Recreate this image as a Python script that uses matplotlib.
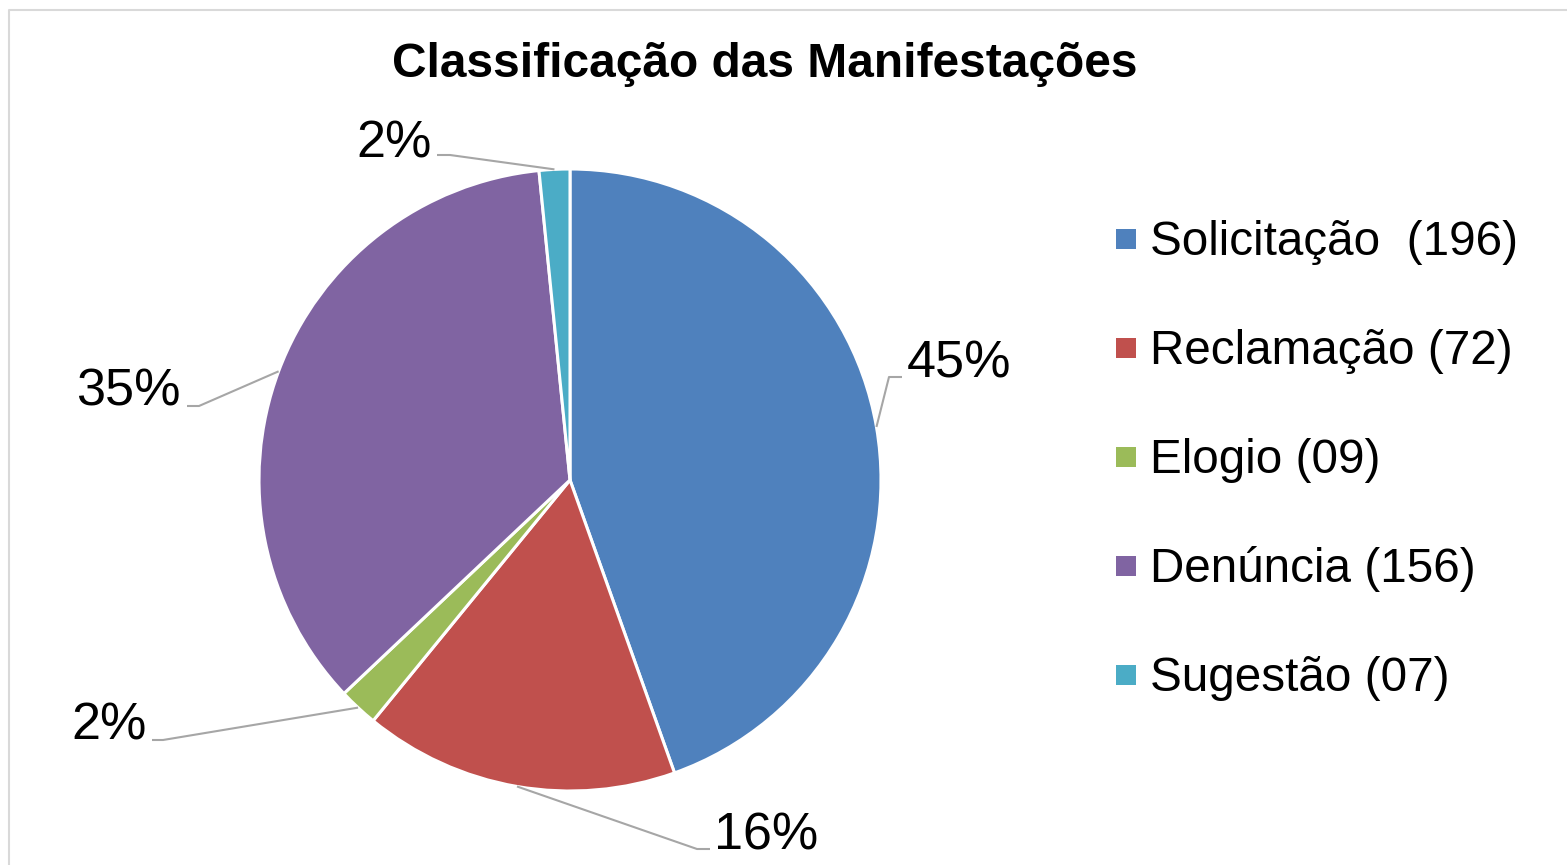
import numpy as np
import matplotlib
matplotlib.use("Agg")
from matplotlib import pyplot as plt
from matplotlib.patches import Rectangle

plt.rcParams['font.family'] = ['Liberation Sans', 'DejaVu Sans']

categories = ["Solicitação  (196)", "Reclamação (72)", "Elogio (09)", "Denúncia (156)", "Sugestão (07)"]
values = [196, 72, 9, 156, 7]
colors = ['#4F81BD', '#C0504D', '#9BBB59', '#8064A2', '#4BACC6']

W, H = 1567, 865
fig = plt.figure(figsize=(W / 100, H / 100), dpi=100)
ax = fig.add_axes([0, 0, 1, 1])

cx, cy, r = 570, H - 480, 311
wedges, _ = ax.pie(values, colors=colors, startangle=90, counterclock=False,
                   center=(cx, cy), radius=r,
                   wedgeprops=dict(edgecolor='white', linewidth=2.2))
ax.set_xlim(0, W)
ax.set_ylim(0, H)
ax.set_aspect('equal')
ax.axis('off')

# leader line elbows / ends and label anchors (pixel layout, y from top)
label_layout = [
    # elbow, end, text x, baseline, ha
    ((889, 377), (902, 377), 907, 378, 'left'),
    ((697, 849), (710, 849), 714, 849, 'left'),
    ((163, 740), (152, 740), 147, 740, 'right'),
    ((199, 406), (187, 406), 181, 406, 'right'),
    ((450, 155), (437, 155), 432, 157, 'right'),
]

total = sum(values)
for w, v, (elbow, end, tx, ty, ha) in zip(wedges, values, label_layout):
    mid = np.deg2rad((w.theta1 + w.theta2) / 2)
    rx, ry = cx + r * np.cos(mid), cy + r * np.sin(mid)
    ax.plot([rx, elbow[0], end[0]], [ry, H - elbow[1], H - end[1]],
            color='#a6a6a6', linewidth=1.5, solid_capstyle='butt')
    ax.text(tx, H - ty, f"{round(v / total * 100)}%", fontsize=37.5,
            ha=ha, va='baseline', color='black')

# legend
for i, (lab, col) in enumerate(zip(categories, colors)):
    yc = 239 + 109 * i
    ax.add_patch(Rectangle((1116, H - yc - 10), 20, 20, color=col, lw=0))
    ax.text(1150, H - (yc + 16), lab, fontsize=34.3, ha='left', va='baseline')

ax.text(765, H - 77, "Classificação das Manifestações", fontsize=34.5,
        fontweight='bold', ha='center', va='baseline')

# chart frame (top and left edges visible)
ax.plot([8.5, 8.5, W + 5], [-5, H - 9.5, H - 9.5], color='#d9d9d9', linewidth=1.5,
        clip_on=False)

fig.savefig('out.png', dpi=100)
